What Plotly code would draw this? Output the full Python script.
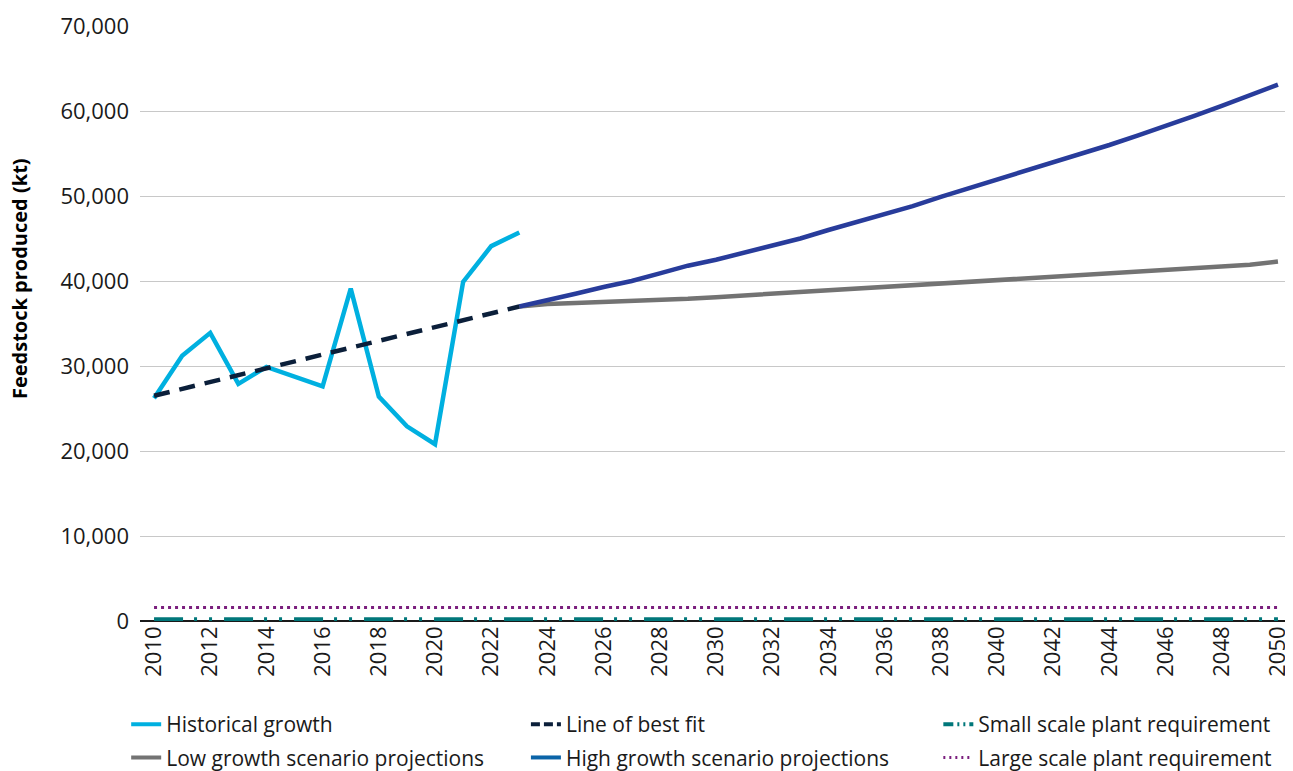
import plotly.graph_objects as go

# ---------------------------------------------------------------------------
# Data (kt)
# ---------------------------------------------------------------------------

hist_years = list(range(2010, 2024))
hist_values = [26200, 31200, 33900, 27900, 29900, 28800, 27600, 39100,
               26400, 22900, 20800, 39900, 44100, 45700]

fit_values = [26500, 27300, 28100, 28900, 29700, 30500, 31400, 32200,
              33000, 33800, 34600, 35400, 36200, 37000]

proj_years = list(range(2023, 2051))
low_values = [37000, 37300, 37400, 37500, 37600, 37700, 37900, 38100,
              38300, 38500, 38700, 38900, 39100, 39300, 39500, 39700,
              39900, 40000, 40300, 40500, 40700, 40900, 41100, 41300,
              41500, 41700, 41900, 42300]
high_values = [37000, 37700, 38500, 39300, 40000, 40900, 41800, 42500,
               43300, 44200, 45000, 46000, 46900, 47800, 48800, 49900,
               50900, 51900, 52900, 53900, 55000, 56000, 57100, 58200,
               59400, 60600, 61900, 63100]

all_years = list(range(2010, 2051))
small_plant = [200] * len(all_years)
large_plant = [1600] * len(all_years)

x_ticks = list(range(2010, 2051, 2))
y_ticks = list(range(0, 70001, 10000))

FONT = "Open Sans, sans-serif"
SMALL_DASH = "29px,11px,3px,12px,3px,12px"
LARGE_DOT = "3px,4px"

fig = go.Figure()

# plotted series (legend entries are drawn separately below)
fig.add_trace(go.Scatter(x=all_years, y=large_plant, mode="lines",
                         line=dict(color="#7b1f7e", width=3, dash=LARGE_DOT),
                         showlegend=False))
fig.add_trace(go.Scatter(x=all_years, y=small_plant, mode="lines",
                         line=dict(color="#00777a", width=4, dash=SMALL_DASH),
                         showlegend=False))
fig.add_trace(go.Scatter(x=proj_years, y=low_values, mode="lines",
                         line=dict(color="#737373", width=4.5),
                         showlegend=False))
fig.add_trace(go.Scatter(x=proj_years, y=high_values, mode="lines",
                         line=dict(color="#283c9b", width=4.5),
                         showlegend=False))
fig.add_trace(go.Scatter(x=hist_years, y=hist_values, mode="lines",
                         line=dict(color="#00b0e0", width=4.5),
                         showlegend=False))
fig.add_trace(go.Scatter(x=hist_years, y=fit_values, mode="lines",
                         line=dict(color="#0b1f3a", width=4.5, dash="16px,10px"),
                         showlegend=False))

# legend entries: three columns of two, each column its own legend
legend_items = [
    ("Historical growth", "legend", dict(color="#00b0e0", width=4)),
    ("Low growth scenario projections", "legend", dict(color="#737373", width=4)),
    ("Line of best fit", "legend2", dict(color="#0b1f3a", width=4, dash="9px,4px")),
    ("High growth scenario projections", "legend2", dict(color="#0b64a8", width=4)),
    ("Small scale plant requirement", "legend3", dict(color="#00777a", width=4, dash="10px,4px,2px,4px,2px,4px")),
    ("Large scale plant requirement", "legend3", dict(color="#7b1f7e", width=3, dash="2px,4px")),
]
for name, leg, line in legend_items:
    fig.add_trace(go.Scatter(x=[None], y=[None], mode="lines", name=name, line=line,
                             legend=leg, legendgroup=name))

fig.add_annotation(text="<b>Feedstock produced (kt)</b>", textangle=-90,
                   xref="paper", yref="paper", x=-0.104, y=0.575, xanchor="center",
                   showarrow=False, font=dict(size=20, color="#000000", family=FONT))

legend_style = dict(orientation="v", xanchor="left", yref="container", y=0.0878,
                    yanchor="top", font=dict(size=21, family=FONT),
                    traceorder="grouped", tracegroupgap=3, itemwidth=30,
                    bgcolor="rgba(0,0,0,0)")

# the page body adds an 8px offset, so the figure is 8px smaller than the window
fig.update_layout(
    width=1285, height=763,
    paper_bgcolor="white", plot_bgcolor="white",
    margin=dict(l=132, r=1, t=18, b=150),
    font=dict(family=FONT, size=21, color="#1a1a1a"),
    showlegend=True,
    legend=dict(x=-0.012, **legend_style),
    legend2=dict(x=0.335, **legend_style),
    legend3=dict(x=0.693, **legend_style),
)
fig.update_xaxes(range=[2009.5, 2050.5], tickmode="array", tickvals=x_ticks,
                 tickangle=-90, showgrid=False, zeroline=False, automargin=False,
                 showline=False, ticks="", tickfont=dict(size=22))
fig.update_yaxes(range=[0, 70000], tickmode="array", tickvals=y_ticks,
                 tickformat=",", showgrid=True, gridcolor="#c8c8c8", gridwidth=1,
                 zeroline=True, zerolinecolor="#1a1a1a", zerolinewidth=1.5,
                 automargin=False, showline=False, ticks="", ticklabelstandoff=10,
                 tickfont=dict(size=22))

fig.write_html("out.html")
